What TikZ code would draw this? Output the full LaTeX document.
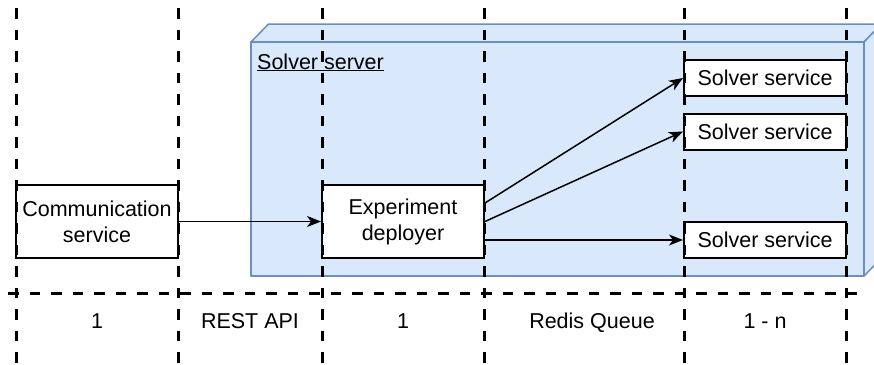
\documentclass[tikz,border=0pt]{standalone}
\usepackage{fontspec}
\setmainfont{Liberation Sans}
\usetikzlibrary{arrows.meta}
\definecolor{cubefill}{HTML}{DAE8FC}
\definecolor{cubeline}{HTML}{6C8EBF}

\begin{document}
\begin{tikzpicture}[x=1pt,y=-1pt,
  txt/.style={font=\fontsize{21.5}{26}\selectfont, inner sep=0pt},
  unit/.style={draw=black, line width=2pt, fill=white, minimum width=162pt,
    inner sep=0pt, align=center, font=\fontsize{21.5}{26}\selectfont},
  link/.style={line width=1.5pt, -{Stealth[length=14pt,width=11pt,inset=4pt]}},
  tier/.style={line width=3pt, dash pattern=on 10.5pt off 11pt},
  face/.style={draw=cubeline, line width=1.5pt, fill=cubefill, line join=round}]
\useasboundingbox (0,0) rectangle (874,364);
\clip (0,0) rectangle (874,364);

% solver server drawn as a cube
\draw[face] (251,42) -- (268.5,24) -- (881.5,24) -- (864,42) -- cycle;
\draw[face] (864,42) -- (881.5,24) -- (881.5,258) -- (864,276) -- cycle;
\draw[face] (251,42) rectangle (864,276);
\node[txt, anchor=base west] (srv) at (257,69) {\underline{Solver server}};

% services
\node[unit, minimum height=73pt] (comm) at (97,221.5) {Communication\\service};
\node[unit, minimum height=73pt] (dep) at (403,221.5) {Experiment\\deployer};
\node[unit, minimum height=36pt] (s1) at (765,78) {Solver service};
\node[unit, minimum height=36pt] (s2) at (765,131.5) {Solver service};
\node[unit, minimum height=36pt] (s3) at (765,240) {Solver service};

% connections
\draw[link] (comm.east) -- (dep.west);
\draw[link] ([yshift=18.5pt]dep.east) -- (s1.west);
\draw[link] (dep.east) -- (s2.west);
\draw[link] ([yshift=-18.5pt]dep.east) -- (s3.west);

% tier separators
\foreach \x [count=\i] in {16,178,322,484,684,846} {
  \coordinate (vt\i) at (\x,0);
  \coordinate (vb\i) at (\x,364);
  \draw[tier, dash phase=13.5pt] (vt\i) -- (vb\i);
}
\coordinate (hl) at (8,293);
\coordinate (hr) at (862,293);
\draw[tier] (hl) -- (hr);

% tier labels
\node[txt, anchor=base] (t1) at (97,328) {1};
\node[txt, anchor=base] (t2) at (250,328) {REST API};
\node[txt, anchor=base] (t3) at (403,328) {1};
\node[txt, anchor=base] (t4) at (592,328) {Redis Queue};
\node[txt, anchor=base] (t5) at (765,328) {1 - n};
\end{tikzpicture}
\end{document}
